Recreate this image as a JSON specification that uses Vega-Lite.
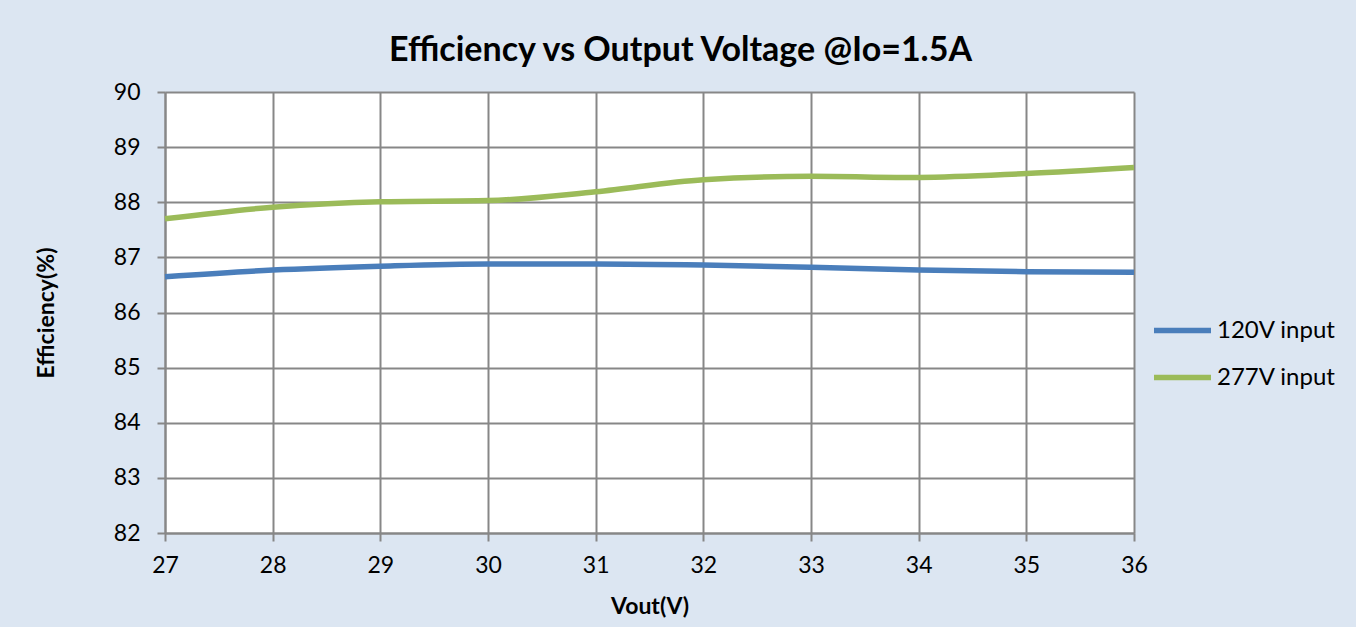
{
  "$schema": "https://vega.github.io/schema/vega-lite/v6.json",
  "width": 969,
  "height": 441,
  "autosize": {"type": "none"},
  "padding": {"left": 165, "top": 92, "right": 222, "bottom": 94},
  "background": "#dce6f2",
  "title": {
    "text": "Efficiency vs Output Voltage @Io=1.5A",
    "font": "Lato",
    "fontSize": 34,
    "fontWeight": "bold",
    "color": "#000000",
    "anchor": "middle",
    "dx": 31,
    "offset": 13
  },
  "config": {
    "view": {"fill": "white", "stroke": null},
    "font": "Lato"
  },
  "data": {
    "values": [
      {"vout": 27, "eff": 86.65, "series": "120V input"},
      {"vout": 28, "eff": 86.77, "series": "120V input"},
      {"vout": 29, "eff": 86.84, "series": "120V input"},
      {"vout": 30, "eff": 86.88, "series": "120V input"},
      {"vout": 31, "eff": 86.88, "series": "120V input"},
      {"vout": 32, "eff": 86.86, "series": "120V input"},
      {"vout": 33, "eff": 86.82, "series": "120V input"},
      {"vout": 34, "eff": 86.77, "series": "120V input"},
      {"vout": 35, "eff": 86.74, "series": "120V input"},
      {"vout": 36, "eff": 86.73, "series": "120V input"},
      {"vout": 27, "eff": 87.70, "series": "277V input"},
      {"vout": 28, "eff": 87.91, "series": "277V input"},
      {"vout": 29, "eff": 88.01, "series": "277V input"},
      {"vout": 30, "eff": 88.03, "series": "277V input"},
      {"vout": 31, "eff": 88.19, "series": "277V input"},
      {"vout": 32, "eff": 88.41, "series": "277V input"},
      {"vout": 33, "eff": 88.47, "series": "277V input"},
      {"vout": 34, "eff": 88.45, "series": "277V input"},
      {"vout": 35, "eff": 88.52, "series": "277V input"},
      {"vout": 36, "eff": 88.63, "series": "277V input"}
    ]
  },
  "mark": {"type": "line", "interpolate": "monotone", "strokeWidth": 5.5, "strokeCap": "butt"},
  "encoding": {
    "x": {
      "field": "vout",
      "type": "quantitative",
      "scale": {"domain": [27, 36], "nice": false, "zero": false},
      "axis": {
        "title": "Vout(V)",
        "values": [27, 28, 29, 30, 31, 32, 33, 34, 35, 36],
        "grid": true,
        "gridColor": "#878787",
        "gridWidth": 2,
        "gridOpacity": 1,
        "domainColor": "#878787",
        "domainWidth": 2,
        "tickColor": "#878787",
        "tickWidth": 2,
        "tickSize": 8,
        "labelFont": "Lato",
        "labelFontSize": 23,
        "labelColor": "#000000",
        "labelPadding": 13,
        "labelFlush": false,
        "titleFont": "Lato",
        "titleFontSize": 23,
        "titleFontWeight": "bold",
        "titleColor": "#000000",
        "titlePadding": 18
      }
    },
    "y": {
      "field": "eff",
      "type": "quantitative",
      "scale": {"domain": [82, 90], "nice": false, "zero": false},
      "axis": {
        "title": "Efficiency(%)",
        "values": [82, 83, 84, 85, 86, 87, 88, 89, 90],
        "grid": true,
        "gridColor": "#878787",
        "gridWidth": 2,
        "gridOpacity": 1,
        "domainColor": "#878787",
        "domainWidth": 2,
        "tickColor": "#878787",
        "tickWidth": 2,
        "tickSize": 8,
        "labelFont": "Lato",
        "labelFontSize": 23,
        "labelColor": "#000000",
        "labelPadding": 17,
        "titleFont": "Lato",
        "titleFontSize": 23,
        "titleFontWeight": "bold",
        "titleColor": "#000000",
        "titlePadding": 55
      }
    },
    "color": {
      "field": "series",
      "type": "nominal",
      "scale": {"domain": ["120V input", "277V input"], "range": ["#4a7ebb", "#9bbb59"]},
      "legend": {
        "title": null,
        "orient": "none",
        "legendX": 986,
        "legendY": 207,
        "symbolType": "stroke",
        "symbolSize": 3249,
        "symbolStrokeWidth": 5.5,
        "labelFont": "Lato",
        "labelFontSize": 24,
        "labelColor": "#000000",
        "labelOffset": 3,
        "rowPadding": 3
      }
    }
  }
}
